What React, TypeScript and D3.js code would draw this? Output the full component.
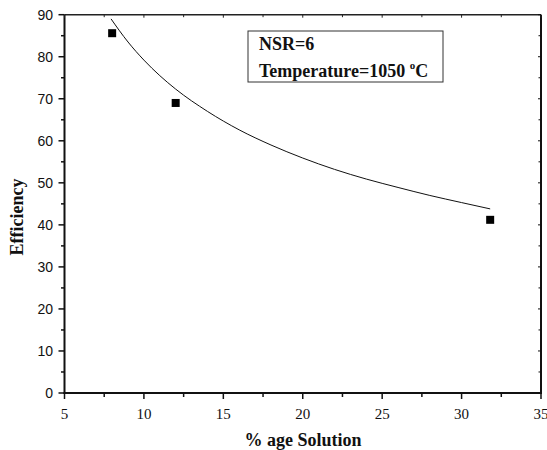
import * as React from "react"
import * as d3 from "d3"

// measured points
const solutionPct = [8, 12, 31.8]
const efficiency = [85.6, 69, 41.2]

// fitted curve
const fitX = [7.93, 9, 10, 11, 12, 14, 16, 18, 20, 22, 24, 26, 28, 30, 31.8]
const fitY = [89.0, 83.5, 79.2, 75.5, 72.3, 67.0, 62.6, 59.0, 55.9, 53.2, 50.9, 48.9, 47.0, 45.3, 43.8]

const xTicks = [5, 10, 15, 20, 25, 30, 35]
const yTicks = [0, 10, 20, 30, 40, 50, 60, 70, 80, 90]
const legendLines = ["NSR=6", "Temperature=1050 "]

function App() {
    const width = 547
    const height = 450
    const left = 64.5
    const right = 541
    const top = 14.7
    const bottom = 393

    const x = d3.scaleLinear().domain([5, 35]).range([left, right])
    const y = d3.scaleLinear().domain([0, 90]).range([bottom, top])

    const xMinor = d3.range(7.5, 35, 5)
    const yMinor = d3.range(5, 90, 10)

    const line = d3
        .line<number>()
        .x((d, i) => x(fitX[i]))
        .y((d) => y(d))
        .curve(d3.curveMonotoneX)

    const serif = "Liberation Serif"
    const sans = "Liberation Sans"

    return (
        <svg width={width} height={height} style={{ position: "absolute", left: 0, top: 0, background: "#fff" }}>
            {/* frame */}
            <line x1={left} x2={right} y1={top} y2={top} stroke="#222" strokeWidth={1.5} />
            <line x1={right} x2={right} y1={top} y2={bottom} stroke="#111" strokeWidth={2} />
            <line x1={left} x2={left} y1={top} y2={bottom + 1} stroke="#111" strokeWidth={2} />
            <line x1={left - 1} x2={right + 1} y1={bottom} y2={bottom} stroke="#111" strokeWidth={2} />

            {/* x ticks */}
            {xTicks.map((t) => (
                <g key={"xt" + t}>
                    <line x1={x(t)} x2={x(t)} y1={bottom} y2={bottom + 6} stroke="#111" strokeWidth={1.5} />
                    <line x1={x(t)} x2={x(t)} y1={top} y2={top + 3} stroke="#222" strokeWidth={1} />
                    <text x={x(t)} y={419} textAnchor="middle" style={{ fontFamily: serif }} fontSize={15} fill="#111">{t}</text>
                </g>
            ))}
            {xMinor.map((t) => (
                <g key={"xm" + t}>
                    <line x1={x(t)} x2={x(t)} y1={bottom} y2={bottom + 4} stroke="#111" strokeWidth={1.5} />
                    <line x1={x(t)} x2={x(t)} y1={top} y2={top + 2.5} stroke="#222" strokeWidth={1} />
                </g>
            ))}

            {/* y ticks */}
            {yTicks.map((t) => (
                <g key={"yt" + t}>
                    <line x1={left - 6} x2={left} y1={y(t)} y2={y(t)} stroke="#111" strokeWidth={1.5} />
                    <line x1={right - 3} x2={right} y1={y(t)} y2={y(t)} stroke="#111" strokeWidth={1} />
                    <text x={53} y={y(t) + 5} textAnchor="end" style={{ fontFamily: sans }} fontSize={14} fill="#111">{t}</text>
                </g>
            ))}
            {yMinor.map((t) => (
                <g key={"ym" + t}>
                    <line x1={left - 3.5} x2={left} y1={y(t)} y2={y(t)} stroke="#111" strokeWidth={1.5} />
                    <line x1={right - 2.5} x2={right} y1={y(t)} y2={y(t)} stroke="#111" strokeWidth={1} />
                </g>
            ))}

            {/* fit curve */}
            <path d={line(fitY) || ""} fill="none" stroke="#111" strokeWidth={1} />

            {/* data squares */}
            {solutionPct.map((s, i) => (
                <rect key={i} x={x(s) - 4} y={y(efficiency[i]) - 4} width={8} height={8} fill="#000" />
            ))}

            {/* legend box */}
            <rect x={248} y={31} width={195} height={51} fill="#fff" stroke="#333" strokeWidth={1} />
            <text x={259} y={50} style={{ fontFamily: serif }} fontWeight="bold" fontSize={18} fill="#111">{legendLines[0]}</text>
            <text x={259} y={77} style={{ fontFamily: serif }} fontWeight="bold" fontSize={18} fill="#111">
                {legendLines[1]}
                <tspan fontSize={11} dy={-8}>o</tspan>
                <tspan dy={8}>C</tspan>
            </text>

            {/* axis titles */}
            <text x={303} y={446} textAnchor="middle" style={{ fontFamily: serif }} fontWeight="bold" fontSize={18} fill="#111">% age Solution</text>
            <text
                transform={`translate(23, 217) rotate(-90)`}
                textAnchor="middle"
                style={{ fontFamily: serif }}
                fontWeight="bold"
                fontSize={18}
                fill="#111"
            >
                Efficiency
            </text>
        </svg>
    )
}

export default App
